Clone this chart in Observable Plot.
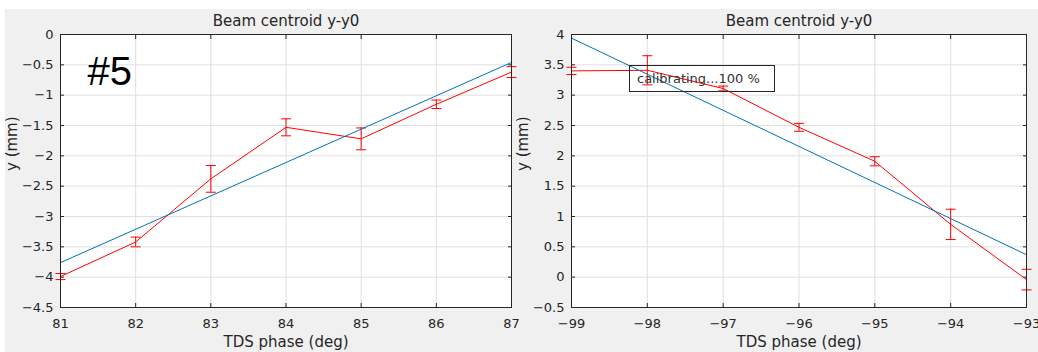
<!DOCTYPE html>
<html>
<head>
<meta charset="utf-8">
<script src="https://cdn.jsdelivr.net/npm/d3@7"></script>
<script src="https://cdn.jsdelivr.net/npm/@observablehq/plot@0.6"></script>
<style>
  html, body { margin: 0; padding: 0; background: #ffffff; }
  #fig { position: absolute; left: 5px; top: 9px; width: 1033px; height: 343px; background: #f0f0f0; overflow: hidden; }
  #fig svg { position: absolute; top: -9px; }
  #note { position: absolute; left: 624px; top: 56px; width: 146px; height: 27px; box-sizing: border-box;
          border: 1px solid #262626; padding-left: 7px; font: 13px "DejaVu Sans", sans-serif; line-height: 25px;
          color: #333333; white-space: nowrap; }
</style>
</head>
<body>
<div id="fig"></div>
<script>
// Left scan: TDS phase 81..87 deg
const leftPhase = [81, 82, 83, 84, 85, 86, 87];
const leftY = [-3.99, -3.42, -2.38, -1.53, -1.72, -1.15, -0.62];
const leftErr = [0.05, 0.08, 0.22, 0.14, 0.18, 0.07, 0.09];
const leftFitPhase = [81, 87];
const leftFitY = [-3.76, -0.46];
const leftXTicks = [81, 82, 83, 84, 85, 86, 87];
const leftYTicks = [-4.5, -4, -3.5, -3, -2.5, -2, -1.5, -1, -0.5, 0];

// Right scan: TDS phase -99..-93 deg
const rightPhase = [-99, -98, -97, -96, -95, -94, -93];
const rightY = [3.40, 3.41, 3.11, 2.47, 1.91, 0.87, -0.04];
const rightErr = [0.06, 0.24, 0.04, 0.065, 0.075, 0.25, 0.17];
const rightFitPhase = [-99, -93];
const rightFitY = [3.94, 0.37];
const rightXTicks = [-99, -98, -97, -96, -95, -94, -93];
const rightYTicks = [-0.5, 0, 0.5, 1, 1.5, 2, 2.5, 3, 3.5, 4];

const titleText = "Beam centroid y-y0";
const xLabel = "TDS phase (deg)";
const yLabel = "y (mm)";
const tagText = "#5";
const noteText = "calibrating...100 %";

const ink = "#262626";
const gridColor = "#dfdfdf";
const fmt = d3.format("");

// short horizontal cap for the error bars
const cap = { draw(ctx) { ctx.moveTo(-5, 0); ctx.lineTo(5, 0); } };

function panel({phase, y, err, fitPhase, fitY, xTicks, yTicks, width, marginLeft, marginRight, extra = []}) {
  const pts = phase.map((p, i) => ({phase: p, y: y[i], lo: y[i] - err[i], hi: y[i] + err[i]}));
  const fit = fitPhase.map((p, i) => ({phase: p, y: fitY[i]}));
  const tickMarks = {tickSize: 4, fill: "none", stroke: ink, label: null};
  return Plot.plot({
    width, height: 352,
    marginLeft, marginRight, marginTop: 34, marginBottom: 45,
    style: {background: "transparent", fontFamily: "DejaVu Sans", color: ink, overflow: "visible"},
    x: {domain: [xTicks[0], xTicks[xTicks.length - 1]]},
    y: {domain: [yTicks[0], yTicks[yTicks.length - 1]]},
    marks: [
      Plot.frame({fill: "white", stroke: null}),
      Plot.gridX(xTicks, {stroke: gridColor, strokeOpacity: 1}),
      Plot.gridY(yTicks, {stroke: gridColor, strokeOpacity: 1}),
      // inward tick marks on all four sides
      Plot.axisX(xTicks, {anchor: "bottom", dy: -4, ...tickMarks}),
      Plot.axisX(xTicks, {anchor: "top", dy: 4, ...tickMarks}),
      Plot.axisY(yTicks, {anchor: "left", dx: 4, ...tickMarks}),
      Plot.axisY(yTicks, {anchor: "right", dx: -4, ...tickMarks}),
      // tick labels
      Plot.axisX(xTicks, {anchor: "bottom", tickSize: 0, tickPadding: 11, tickFormat: fmt, fontSize: 13, fill: ink, label: null}),
      Plot.axisY(yTicks, {anchor: "left", tickSize: 0, tickPadding: 7, tickFormat: fmt, fontSize: 13, fill: ink, label: null}),
      // measured centroid with error bars
      Plot.ruleX(pts, {x: "phase", y1: "lo", y2: "hi", stroke: "#ff0000", strokeWidth: 1}),
      Plot.dot(pts, {x: "phase", y: "lo", symbol: cap, r: 5, fill: "none", stroke: "#ff0000", strokeWidth: 1}),
      Plot.dot(pts, {x: "phase", y: "hi", symbol: cap, r: 5, fill: "none", stroke: "#ff0000", strokeWidth: 1}),
      Plot.line(pts, {x: "phase", y: "y", stroke: "#ff0000", strokeWidth: 1}),
      // linear fit
      Plot.line(fit, {x: "phase", y: "y", stroke: "#0072bd", strokeWidth: 1}),
      Plot.frame({stroke: ink, strokeWidth: 1}),
      Plot.text([titleText], {frameAnchor: "top", dy: -13, lineAnchor: "middle", fontSize: 15, fill: ink}),
      Plot.text([xLabel], {frameAnchor: "bottom", dy: 35, lineAnchor: "middle", fontSize: 15, fill: ink}),
      Plot.text([yLabel], {frameAnchor: "left", dx: -48.5, rotate: -90, lineAnchor: "middle", fontSize: 15, fill: ink}),
      ...extra
    ]
  });
}

const left = panel({
  phase: leftPhase, y: leftY, err: leftErr, fitPhase: leftFitPhase, fitY: leftFitY,
  xTicks: leftXTicks, yTicks: leftYTicks, width: 518, marginLeft: 60, marginRight: 7,
  extra: [Plot.text([tagText], {frameAnchor: "top-left", dx: 27, dy: 38, textAnchor: "start", lineAnchor: "middle",
                                fontSize: 40, fontFamily: "Liberation Sans", fill: "#000000"})]
});
const right = panel({
  phase: rightPhase, y: rightY, err: rightErr, fitPhase: rightFitPhase, fitY: rightFitY,
  xTicks: rightXTicks, yTicks: rightYTicks, width: 520, marginLeft: 53, marginRight: 12
});

const fig = document.getElementById("fig");
left.style.left = "-5px";
right.style.left = "513px";
fig.appendChild(left);
fig.appendChild(right);

const note = document.createElement("div");
note.id = "note";
note.textContent = noteText;
fig.appendChild(note);
</script>
</body>
</html>
